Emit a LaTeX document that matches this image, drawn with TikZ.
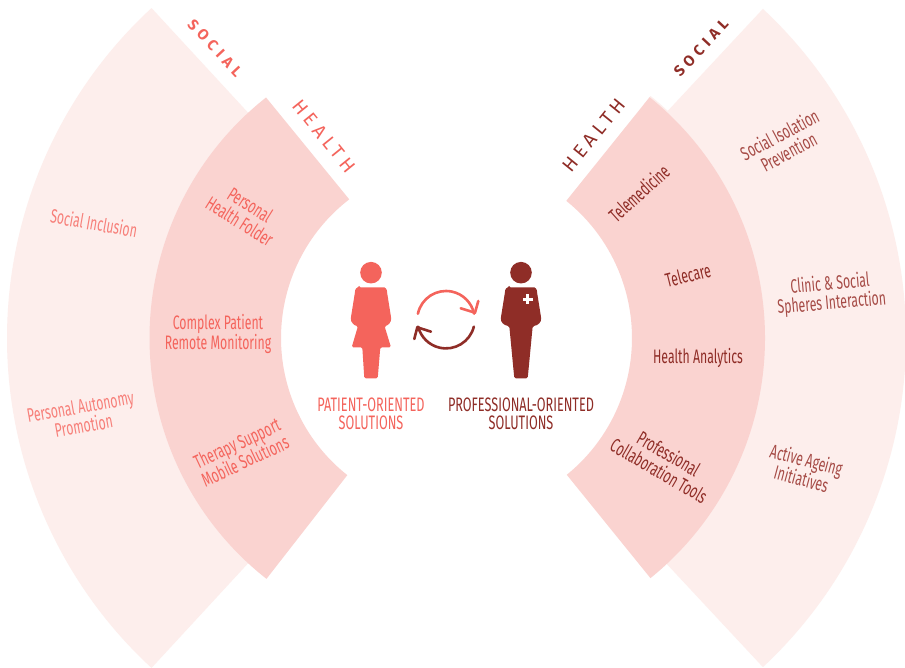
\documentclass[tikz,border=0pt]{standalone}
\usepackage{fontspec}
\usetikzlibrary{calc}
\setmainfont{Fira Sans}
\newfontfamily\narrowfont[FakeStretch=0.63]{Fira Sans}
\newfontfamily\capfont[FakeStretch=0.65]{Fira Sans}
\newfontfamily\headfont[FakeStretch=1,LetterSpace=24]{Fira Sans}
\newfontfamily\headbold[LetterSpace=31,BoldFont={Fira Sans Bold}]{Fira Sans}
\definecolor{socialfill}{HTML}{FDEEEC}
\definecolor{healthfill}{HTML}{FAD3D0}
\definecolor{salmon}{HTML}{F4645C}
\definecolor{darkred}{HTML}{8F2D27}
\definecolor{salmonsoft}{HTML}{F77F79}
\definecolor{darksoft}{HTML}{A64B46}
\tikzset{
  x=1pt,y=1pt,
  lbl/.style={font=\narrowfont\fontsize{19.5}{19.5}\selectfont,align=center,inner sep=0pt},
  caption/.style={font=\capfont\fontsize{19.5}{18.5}\selectfont,align=center,inner sep=0pt},
  headtext/.style={font=\headfont\fontsize{19}{19}\selectfont,inner sep=0pt},
  socialtext/.style={font=\headbold\bfseries\fontsize{15}{15}\selectfont,inner sep=0pt},
  cyc/.style={line width=2.6pt,line cap=round,line join=round},
}
\newcommand{\bandwedge}[7]{% color, outer start, outer end, inner start, inner end, r inner, r outer
  \fill[#1] ($(C)+(#2:#7)$) arc[start angle=#2,end angle=#3,radius=#7]
    -- ($(C)+(#5:#6)$) arc[start angle=#5,end angle=#4,radius=#6] -- cycle;}
\begin{document}
\begin{tikzpicture}
\useasboundingbox (0,0) rectangle (905,667);
\fill[white] (0,0) rectangle (905,667);
\coordinate (C) at (456,329);
% bands
\bandwedge{socialfill}{132.7}{227.3}{132.7}{227.3}{300}{449}
\bandwedge{socialfill}{-47}{47}{-47}{47}{300}{450}
\bandwedge{socialfill}{46}{51.2}{46}{51.2}{300}{310.5}
\bandwedge{healthfill}{128.3}{231.8}{127.6}{231.6}{175}{306.5}
\bandwedge{healthfill}{-51}{51.2}{-51}{51.2}{176}{309}
% patient figure
\fill[salmon] (371,394.3) circle[radius=10.8];
\fill[salmon,rounded corners=1.5pt]
  (359,379.5) -- (383,379.5) .. controls (385.5,379.5) and (386.8,377.5) .. (387,375)
  -- (391,350) .. controls (391.5,345) and (388,341.5) .. (384.5,341)
  -- (391,319.7) -- (380.3,319.7) -- (377.7,288.7) -- (364.3,288.7) -- (362.3,319.7)
  -- (351.7,319.7) -- (358,341) .. controls (354,341.5) and (350.5,345) .. (351,350)
  -- (355,375) .. controls (355.2,377.5) and (356.5,379.5) .. (359,379.5) -- cycle;
% professional figure
\fill[darkred] (521,394.3) circle[radius=10.8];
\fill[darkred,rounded corners=1.5pt]
  (509,379.5) -- (533,379.5) .. controls (535.5,379.5) and (536.8,377.5) .. (537,375)
  -- (541,350) .. controls (541.5,345) and (538,341.5) .. (532.7,341)
  -- (527.7,288.7) -- (514.3,288.7) -- (509.3,341) .. controls (504,341.5) and (500.5,345) .. (501,350)
  -- (505,375) .. controls (505.2,377.5) and (506.5,379.5) .. (509,379.5) -- cycle;
\fill[white] (522.7,366.2) rectangle (532.7,369.2);
\fill[white] (526.2,362.7) rectangle (529.2,372.7);
% cycle arrows
\draw[cyc,salmon] ($(446,347.3)+(168:28.7)$) arc[start angle=168,end angle=12,radius=28.7];
\draw[cyc,salmon] (460.7,358.7) -- (475,354.3) -- (478.3,366);
\draw[cyc,darkred] ($(446,347.3)+(-14:28.7)$) arc[start angle=-14,end angle=-166,radius=28.7];
\draw[cyc,darkred] (431,335.3) -- (417.3,339.7) -- (414.3,328);
% headings
\node[socialtext,text=salmon,rotate=-47] (sl) at (215,619) {SOCIAL};
\node[headtext,text=salmon,rotate=-51] (hl) at (324,531) {HEALTH};
\node[headtext,text=darkred,rotate=51] (hr) at (594,532) {HEALTH};
\node[socialtext,text=darkred,rotate=47] (sr) at (701,619) {SOCIAL};
% left labels
\node[lbl,text=salmonsoft,rotate=-10] (a1) at (94,444) {Social Inclusion};
\node[lbl,text=salmonsoft,rotate=10] (a2) at (82,251) {Personal Autonomy\\Promotion};
\node[lbl,text=salmon,rotate=-32] (b1) at (245,454) {Personal\\Health Folder};
\node[lbl,text=salmon] (b2) at (218,333) {Complex Patient\\Remote Monitoring};
\node[lbl,text=salmon,rotate=25] (b3) at (241,215) {Therapy Support\\Mobile Solutions};
% right labels
\node[lbl,text=darkred,rotate=42] (c1) at (639,474) {Telemedicine};
\node[lbl,text=darkred,rotate=14] (c2) at (688,392) {Telecare};
\node[lbl,text=darkred] (c3) at (698,309) {Health Analytics};
\node[lbl,text=darkred,rotate=-30] (c4) at (664,205) {Professional\\Collaboration Tools};
\node[lbl,text=darksoft,rotate=28] (d1) at (784,524) {Social Isolation\\Prevention};
\node[lbl,text=darksoft,rotate=5] (d2) at (831,373) {Clinic \& Social\\Spheres Interaction};
\node[lbl,text=darksoft,rotate=-15] (d3) at (804,198) {Active Ageing\\Initiatives};
% captions
\node[caption,text=salmon] (p1) at (371,253) {PATIENT-ORIENTED\\SOLUTIONS};
\node[caption,text=darkred] (p2) at (521,253) {PROFESSIONAL-ORIENTED\\SOLUTIONS};
\end{tikzpicture}
\end{document}
